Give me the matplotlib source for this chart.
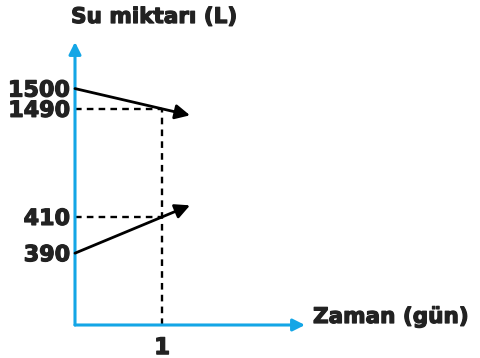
import matplotlib.pyplot as plt
import matplotlib.patheffects as pe
import numpy as np

# values
days = [0, 1]
water_a = [1500, 1490]   # decreasing tank
water_b = [390, 410]     # increasing tank
y_ticks = [390, 410, 1490, 1500]
x_ticks = [1]
arrow_end = 1.32          # lines continue a bit past day 1

# the drawing is schematic: the y axis is stretched piecewise
scale_vals = [0, 390, 420, 1480, 1523]
scale_pos = [0, 72, 126.5, 196.4, 283.7]


def forward(v):
    return np.interp(v, scale_vals, scale_pos)


def inverse(h):
    return np.interp(h, scale_pos, scale_vals)


blue = '#14a6e6'
ink = '#222222'
heavy = [pe.withStroke(linewidth=0.9, foreground=ink)]
plt.rcParams['font.family'] = 'DejaVu Sans'

fig = plt.figure(figsize=(4.8, 3.58), dpi=100)
ax = fig.add_axes([75 / 480, 33 / 358, 230 / 480, 283 / 358])
ax.set_yscale('function', functions=(forward, inverse))
ax.set_xlim(0, 2.64)
ax.set_ylim(0, 1523)
for s in ax.spines.values():
    s.set_visible(False)

# axes with arrowheads
ax.annotate('', xy=(1, 0), xytext=(0, 0), xycoords='axes fraction',
            arrowprops=dict(arrowstyle='-|>', color=blue, lw=2.2,
                            mutation_scale=18, shrinkA=0, shrinkB=0))
ax.annotate('', xy=(0, 1), xytext=(0, 0), xycoords='axes fraction',
            arrowprops=dict(arrowstyle='-|>', color=blue, lw=2.2,
                            mutation_scale=18, shrinkA=0, shrinkB=0))

# guide lines
dash = (0, (2.8, 2.2))
ax.plot([0, days[1]], [water_a[1], water_a[1]], color='black', lw=1.7, ls=dash)
ax.plot([0, days[1]], [water_b[1], water_b[1]], color='black', lw=1.7, ls=dash)
ax.plot([days[1], days[1]], [0, water_a[1]], color='black', lw=1.7, ls=dash)

# trend arrows
for w in (water_a, water_b):
    end_val = w[0] + (w[1] - w[0]) * arrow_end
    ax.annotate('', xy=(arrow_end, end_val), xytext=(days[0], w[0]),
                arrowprops=dict(arrowstyle='-|>', color='black', lw=2,
                                mutation_scale=22, shrinkA=0, shrinkB=0))

ax.set_yticks(y_ticks)
ax.set_yticklabels([str(v) for v in y_ticks])
ax.set_xticks(x_ticks)
ax.set_xticklabels([str(v) for v in x_ticks])
ax.tick_params(axis='y', length=0, pad=3.5, labelsize=16)
ax.tick_params(axis='x', length=0, pad=8, labelsize=16.5)
for lab in ax.get_xticklabels() + ax.get_yticklabels():
    lab.set_fontweight('bold')
    lab.set_color(ink)
    lab.set_path_effects(heavy)

fig.text(154 / 480, 1 - 17 / 358, 'Su miktarı (L)', ha='center', va='center',
         fontsize=15.5, fontweight='bold', color=ink, path_effects=heavy)
fig.text(313 / 480, 1 - 317 / 358, 'Zaman (gün)', ha='left', va='center',
         fontsize=15.5, fontweight='bold', color=ink, path_effects=heavy)

plt.savefig('out.png', dpi=100)
